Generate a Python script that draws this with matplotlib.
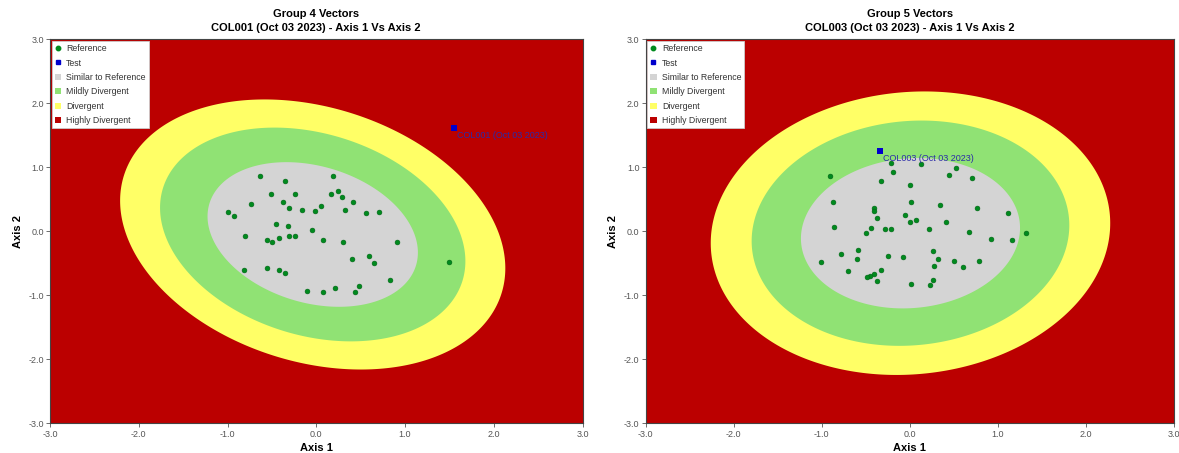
import matplotlib
matplotlib.use('Agg')
import matplotlib.pyplot as plt
from matplotlib.lines import Line2D
from matplotlib.patches import Patch
from matplotlib.ticker import FormatStrFormatter
import numpy as np

plt.rcParams['font.family'] = ['Liberation Sans', 'DejaVu Sans']
plt.rcParams['axes.unicode_minus'] = False

# ── data ──────────────────────────────────────────────────────────────────────
titles = ['Group 4 Vectors\nCOL001 (Oct 03 2023) - Axis 1 Vs Axis 2',
          'Group 5 Vectors\nCOL003 (Oct 03 2023) - Axis 1 Vs Axis 2']
test_labels = ['COL001 (Oct 03 2023)', 'COL003 (Oct 03 2023)']
test_x = [1.55, -0.335]
test_y = [1.61, 1.25]

left_ref_x = [-0.63, -0.35, 0.19, -0.51, -0.24, 0.17, 0.25, 0.29, -0.74, -0.38,
              0.41, -0.99, -0.93, -0.31, -0.16, -0.01, 0.05, 0.32, 0.56, 0.71,
              -0.45, -0.32, -0.05, -0.80, -0.56, -0.50, -0.42, -0.31, -0.24, 0.08,
              0.30, 0.91, 0.40, 0.59, 0.65, 1.49, -0.81, -0.56, -0.42, -0.35,
              0.83, -0.10, 0.08, 0.21, 0.48, 0.44]
left_ref_y = [0.86, 0.79, 0.86, 0.59, 0.58, 0.59, 0.63, 0.54, 0.42, 0.46,
              0.46, 0.30, 0.24, 0.36, 0.34, 0.31, 0.39, 0.33, 0.29, 0.30,
              0.11, 0.09, 0.02, -0.07, -0.14, -0.16, -0.11, -0.08, -0.08, -0.14,
              -0.17, -0.16, -0.43, -0.39, -0.49, -0.48, -0.61, -0.58, -0.60, -0.65,
              -0.76, -0.94, -0.95, -0.88, -0.86, -0.95]

right_ref_x = [-0.21, 0.13, -0.19, 0.53, -0.90, 0.45, 0.71, -0.33, 0.01, -0.87,
               0.02, 0.35, 0.77, -0.40, -0.40, 1.12, -0.05, -0.37, 0.07, 0.00,
               0.41, -0.86, -0.44, -0.28, -0.21, 0.22, -0.50, 0.67, 1.32, 0.93,
               1.16, -0.59, 0.27, -0.78, -0.24, -0.08, -0.60, 0.32, 0.51, 0.79,
               -1.01, 0.28, 0.61, -0.70, -0.33, -0.40, -0.45, -0.48, -0.37, 0.27,
               0.02, 0.23]
right_ref_y = [1.06, 1.05, 0.93, 0.99, 0.86, 0.88, 0.83, 0.79, 0.73, 0.45,
               0.46, 0.41, 0.36, 0.37, 0.32, 0.28, 0.25, 0.20, 0.17, 0.14,
               0.15, 0.06, 0.05, 0.03, 0.03, 0.03, -0.03, -0.005, -0.03, -0.12,
               -0.13, -0.29, -0.31, -0.35, -0.38, -0.40, -0.43, -0.44, -0.47, -0.46,
               -0.48, -0.55, -0.56, -0.62, -0.60, -0.66, -0.70, -0.72, -0.77, -0.76,
               -0.83, -0.84]

# region ellipses: centre, half-extent in x / y for Divergent, Mildly, Similar, correlation
ell_center = [(-0.04, -0.05), (0.01, -0.03)]
ell_sx = [[2.17, 1.72, 1.185], [2.27, 1.805, 1.245]]
ell_sy = [[2.11, 1.67, 1.13], [2.215, 1.76, 1.175]]
ell_rho = [-0.25, 0.07]

region_names = ['Similar to Reference', 'Mildly Divergent', 'Divergent', 'Highly Divergent']
C_RED, C_YEL, C_GRN, C_GRY = '#BB0000', '#FFFF66', '#90E274', '#D4D4D4'
ring_colors = [C_YEL, C_GRN, C_GRY]
C_PT, C_TEST, C_LBL = '#008A1E', '#0000CC', '#2A2AA8'

# ── figure ────────────────────────────────────────────────────────────────────
fig = plt.figure(figsize=(11.79, 4.53), dpi=100)
fig.patch.set_facecolor('white')
rects = [[0.0424, 0.0656, 0.4517, 0.8477], [0.5476, 0.0656, 0.4478, 0.8477]]

t = np.linspace(0, 2 * np.pi, 400)
for i in range(2):
    ax = fig.add_axes(rects[i])
    ax.set_facecolor(C_RED)
    cx, cy = ell_center[i]
    r = ell_rho[i]
    for sx, sy, col in zip(ell_sx[i], ell_sy[i], ring_colors):
        ex = cx + sx * np.cos(t)
        ey = cy + sy * (r * np.cos(t) + np.sqrt(1 - r * r) * np.sin(t))
        ax.fill(ex, ey, color=col, lw=0, zorder=1)

    rx = left_ref_x if i == 0 else right_ref_x
    ry = left_ref_y if i == 0 else right_ref_y
    ax.scatter(rx, ry, s=12, color=C_PT, edgecolor='#006414', linewidth=0.4, zorder=3)
    ax.scatter([test_x[i]], [test_y[i]], s=14, marker='s', color=C_TEST, lw=0, zorder=4)
    ax.annotate(test_labels[i], (test_x[i], test_y[i]), xytext=(2, -5),
                textcoords='offset points', fontsize=6.5, color=C_LBL,
                ha='left', va='center', zorder=5)

    ax.set_xlim(-3, 3)
    ax.set_ylim(-3, 3)
    ax.set_xticks(np.arange(-3, 3.1, 1.0))
    ax.set_yticks(np.arange(-3, 3.1, 1.0))
    ax.xaxis.set_major_formatter(FormatStrFormatter('%.1f'))
    ax.yaxis.set_major_formatter(FormatStrFormatter('%.1f'))
    ax.tick_params(labelsize=6.5, colors='#555555', length=3, width=0.6, pad=1.5)
    for sp in ax.spines.values():
        sp.set_color('#444444')
        sp.set_linewidth(0.8)
    ax.set_xlabel('Axis 1', fontsize=8, fontweight='bold', labelpad=3)
    ax.set_ylabel('Axis 2', fontsize=8, fontweight='bold', labelpad=4)
    ax.set_title(titles[i], fontsize=8, fontweight='bold', pad=6, linespacing=1.45)

    handles = [
        Line2D([], [], ls='', marker='o', ms=3.2, color=C_PT),
        Line2D([], [], ls='', marker='s', ms=3.2, color=C_TEST),
        Patch(facecolor=C_GRY, edgecolor='none'),
        Patch(facecolor=C_GRN, edgecolor='none'),
        Patch(facecolor=C_YEL, edgecolor='none'),
        Patch(facecolor=C_RED, edgecolor='none'),
    ]
    leg = ax.legend(handles, ['Reference', 'Test'] + region_names, loc='upper left',
                    fontsize=6.3, frameon=True, fancybox=False, handlelength=0.7,
                    handleheight=0.7, handletextpad=0.6, labelspacing=0.62,
                    borderpad=0.35, borderaxespad=0.2)
    leg.get_frame().set_edgecolor('#cccccc')
    leg.get_frame().set_linewidth(0.6)
    leg.get_frame().set_alpha(1.0)
    for txt in leg.get_texts():
        txt.set_color('#333333')
    leg.set_zorder(10)

fig.savefig('out.png', dpi=100, facecolor='white')
